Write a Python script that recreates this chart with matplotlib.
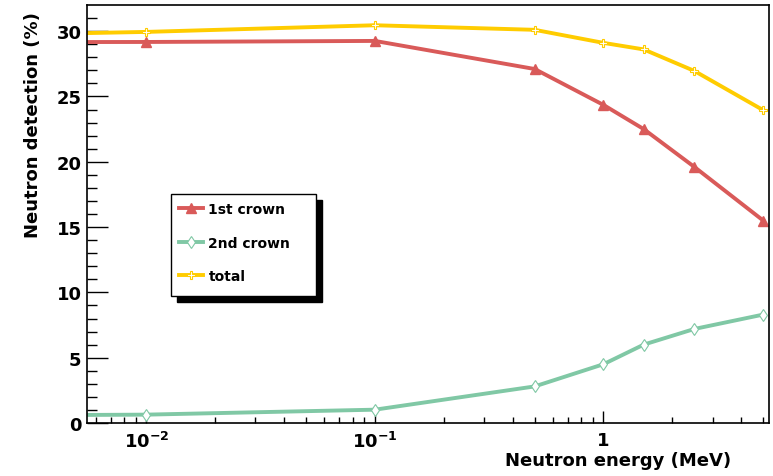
"""
Neutron detection efficiency of the two detector crowns versus neutron energy.
"""

import math

import matplotlib.pyplot as plt
from matplotlib.patches import Rectangle
from matplotlib.ticker import FixedLocator, FuncFormatter

PLOT_FILE = "out.png"

# Neutron energies (MeV)
ENERGY = [0.001, 0.01, 0.1, 0.5, 1.0, 1.5, 2.5, 5.0]

# Detection efficiencies (%)
FIRST_CROWN = [29.15, 29.17, 29.25, 27.1, 24.35, 22.5, 19.6, 15.5]
SECOND_CROWN = [0.55, 0.64, 1.02, 2.8, 4.5, 6.0, 7.2, 8.3]
TOTAL = [29.6, 29.94, 30.45, 30.1, 29.1, 28.6, 26.95, 23.95]

SERIES_LABELS = ["1st crown", "2nd crown", "total"]

RED = "#d95a59"
GREEN = "#80c8a5"
YELLOW = "#ffcc00"

plt.rcParams["font.family"] = ["DejaVu Sans"]
plt.rcParams["font.weight"] = "bold"
plt.rcParams["mathtext.fontset"] = "dejavusans"
plt.rcParams["mathtext.default"] = "bf"
plt.rcParams["axes.unicode_minus"] = False


def log_label(value, _pos):
    """ROOT-like labels: 1 for unity, 10^n otherwise."""
    if abs(value - 1.0) < 1e-9:
        return "1"
    exponent = int(round(math.log10(value)))
    return r"$10^{%d}$" % exponent


def plot_efficiency():
    fig = plt.figure(figsize=(7.73, 4.77), dpi=100)
    ax = fig.add_axes([87 / 773, 1 - 424 / 477, 682 / 773, 418 / 477])

    ax.plot(ENERGY, FIRST_CROWN, color=RED, lw=2.8, marker="^", ms=7,
            mec=RED, mfc=RED, label=SERIES_LABELS[0])
    ax.plot(ENERGY, SECOND_CROWN, color=GREEN, lw=2.8, marker="d", ms=6,
            mec=GREEN, mfc="white", mew=0.8, label=SERIES_LABELS[1])
    ax.plot(ENERGY, TOTAL, color=YELLOW, lw=2.8, marker="P", ms=6,
            mec=YELLOW, mfc="white", mew=0.8, label=SERIES_LABELS[2])

    ax.set_xscale("log")
    ax.set_xlim(0.0055, 5.3)
    ax.set_ylim(0, 32)

    ax.xaxis.set_major_locator(FixedLocator([0.01, 0.1, 1.0]))
    ax.xaxis.set_major_formatter(FuncFormatter(log_label))
    minors = [m * 10.0 ** e for e in (-3, -2, -1, 0) for m in range(2, 10)]
    ax.xaxis.set_minor_locator(FixedLocator(minors))
    ax.set_yticks(range(0, 31, 5))
    ax.yaxis.set_minor_locator(FixedLocator(range(0, 32)))

    ax.tick_params(axis="x", which="major", direction="in", length=9,
                   width=1, labelsize=13, pad=6, top=False)
    ax.tick_params(axis="x", which="minor", direction="in", length=4,
                   width=1, top=False)
    ax.tick_params(axis="y", which="major", direction="in", length=15,
                   width=1, labelsize=13, pad=4, right=False)
    ax.tick_params(axis="y", which="minor", direction="in", length=7.5,
                   width=1, right=False)
    for spine in ax.spines.values():
        spine.set_linewidth(1.2)

    ax.set_xlabel("Neutron energy (MeV)", fontsize=13, fontweight="bold",
                  ha="right")
    ax.xaxis.set_label_coords((731 - 87) / 682, -0.068)
    ax.set_ylabel("Neutron detection (%)", fontsize=13, fontweight="bold",
                  ha="right")
    ax.yaxis.set_label_coords(-0.066, 0.985)

    # Legend box with a solid drop shadow
    x0 = (171 - 87) / 682
    y_top = (424 - 195) / 418
    width = (316 - 171) / 682
    height = (297 - 195) / 418
    shadow = Rectangle((x0 + 6 / 682, y_top - height - 6 / 418), width, height,
                       transform=ax.transAxes, facecolor="black",
                       edgecolor="black", zorder=4)
    frame = Rectangle((x0, y_top - height), width, height,
                      transform=ax.transAxes, facecolor="white",
                      edgecolor="black", lw=1, zorder=4.5)
    ax.add_patch(shadow)
    ax.add_patch(frame)
    ax.legend(loc="upper left", bbox_to_anchor=(x0, y_top), frameon=False,
              handlelength=1.7, handletextpad=0.4,
              labelspacing=1.4, borderpad=0.6, borderaxespad=0,
              prop={"weight": "bold", "size": 10})

    fig.savefig(PLOT_FILE, dpi=100)


if __name__ == "__main__":
    plot_efficiency()
